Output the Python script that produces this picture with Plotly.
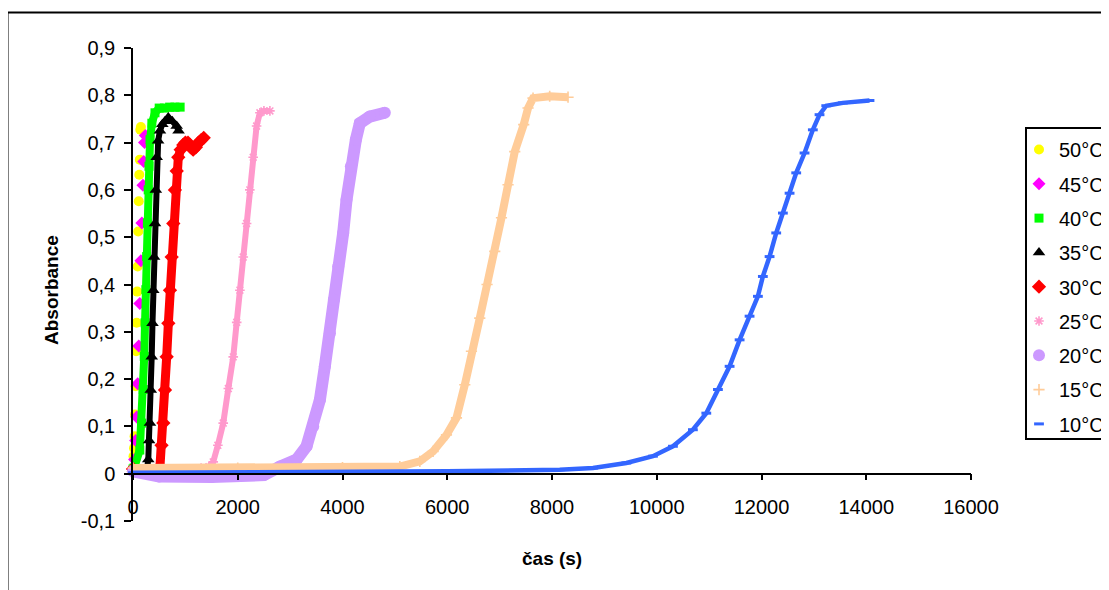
import plotly.graph_objects as go

# ---------------- data ----------------
SERIES_NAMES = ["50°C", "45°C", "40°C", "35°C", "30°C", "25°C", "20°C", "15°C", "10°C"]

t50 = [0, 10, 20, 30, 40, 50, 60, 70, 80, 90, 100, 110, 120, 130, 140, 150]
a50 = [0.01, 0.037, 0.054, 0.079, 0.125, 0.185, 0.259, 0.319, 0.385, 0.438, 0.512, 0.576, 0.632, 0.664, 0.727, 0.733]

t45 = [0, 30, 50, 70, 90, 110, 130, 150, 170, 190, 205, 220, 235]
a45 = [0.01, 0.03, 0.07, 0.12, 0.19, 0.27, 0.36, 0.45, 0.53, 0.61, 0.66, 0.70, 0.715]

t40 = [0, 20, 130, 165, 195, 215, 230, 245, 260, 275, 290, 305, 325, 360, 420, 500, 600, 700, 800, 900]
a40 = [0.01, 0.012, 0.05, 0.107, 0.178, 0.248, 0.319, 0.389, 0.459, 0.53, 0.60, 0.65, 0.706, 0.741, 0.763, 0.773, 0.773, 0.775, 0.775, 0.775]

t35 = [0, 270, 292, 308, 324, 340, 357, 372, 387, 403, 420, 436, 452, 480, 515, 560, 611, 674, 750, 834, 870]
a35 = [0.01, 0.012, 0.03, 0.07, 0.107, 0.177, 0.247, 0.318, 0.388, 0.458, 0.529, 0.60, 0.669, 0.704, 0.725, 0.739, 0.745, 0.753, 0.745, 0.735, 0.725]

t30 = [0, 480, 515, 545, 579, 611, 643, 675, 706, 738, 769, 800, 835, 865, 910, 960, 1000, 1050, 1100, 1150, 1200, 1250, 1300, 1350]
a30 = [0.01, 0.01, 0.015, 0.06, 0.107, 0.177, 0.247, 0.318, 0.388, 0.458, 0.529, 0.60, 0.64, 0.669, 0.685, 0.695, 0.70, 0.70, 0.69, 0.685, 0.69, 0.70, 0.705, 0.71]

t25 = [0, 800, 1300, 1450, 1532, 1620, 1723, 1820, 1914, 1980, 2041, 2105, 2169, 2230, 2295, 2360, 2423, 2500, 2614]
a25 = [0.01, 0.01, 0.012, 0.015, 0.025, 0.06, 0.107, 0.18, 0.247, 0.32, 0.388, 0.458, 0.529, 0.60, 0.669, 0.735, 0.763, 0.767, 0.767]

t20 = [0, 500, 1500, 2500, 2805, 3123, 3314, 3441, 3568, 3663, 3759, 3835, 3918, 4013, 4077, 4160, 4255, 4331, 4522, 4808]
a20 = [0.005, -0.006, -0.007, -0.003, 0.015, 0.03, 0.058, 0.10, 0.156, 0.227, 0.297, 0.368, 0.438, 0.509, 0.579, 0.65, 0.706, 0.741, 0.755, 0.763]

t15 = [0, 2000, 4000, 5094, 5476, 5730, 5985, 6176, 6335, 6462, 6621, 6760, 6907, 7035, 7161, 7289, 7460, 7543, 7638, 7956, 8306]
a15 = [0.012, 0.012, 0.013, 0.015, 0.026, 0.047, 0.082, 0.118, 0.188, 0.259, 0.329, 0.40, 0.47, 0.541, 0.611, 0.681, 0.738, 0.773, 0.794, 0.798, 0.796]

t10 = [0, 2000, 4000, 6000, 8147, 8783, 9420, 9927, 10309, 10690, 10946, 11168, 11391, 11582, 11772, 11931, 12026, 12154, 12281, 12408, 12536, 12663, 12822, 12980, 13108, 13236, 13553, 14062]
a10 = [0.002, 0.003, 0.003, 0.005, 0.0085, 0.012, 0.0226, 0.037, 0.058, 0.093, 0.128, 0.178, 0.227, 0.283, 0.333, 0.375, 0.417, 0.459, 0.509, 0.551, 0.593, 0.636, 0.678, 0.727, 0.759, 0.778, 0.784, 0.789]

X_TICKS = [0, 2000, 4000, 6000, 8000, 10000, 12000, 14000, 16000]
X_TICK_LABELS = ["0", "2000", "4000", "6000", "8000", "10000", "12000", "14000", "16000"]
Y_TICKS = [-0.1, 0, 0.1, 0.2, 0.3, 0.4, 0.5, 0.6, 0.7, 0.8, 0.9]
Y_TICK_LABELS = ["-0,1", "0", "0,1", "0,2", "0,3", "0,4", "0,5", "0,6", "0,7", "0,8", "0,9"]

X_TITLE = "čas (s)"
Y_TITLE = "Absorbance"

# ---------------- styles ----------------
TIMES = [t50, t45, t40, t35, t30, t25, t20, t15, t10]
VALUES = [a50, a45, a40, a35, a30, a25, a20, a15, a10]
COLORS = ["#FFFF00", "#FF00FF", "#00FF00", "#000000", "#FF0000", "#FF99CC", "#CC99FF", "#FFCC99", "#3366FF"]
SYMBOLS = ["circle", "diamond", "square", "triangle-up", "diamond", "asterisk", "circle", "cross-thin", "line-ew"]
SIZES = [10, 10, 9, 11, 11, 8, 12, 8, 7]
BAND = [0, 0, 8, 6, 9, 6, 12, 8, 4.5]   # width of the dense-marker band (0 = none)

FONT = "Liberation Sans, Arial, sans-serif"

# page body has an 8px margin -> lay out in reference pixels minus 8
OFF = 8
L, T = 133 - OFF, 48 - OFF
PW, PH = 838, 473
W, H = 1150, 590
R, B = W - L - PW, H - T - PH


def px(xr):  # reference pixel x -> paper fraction
    return (xr - OFF - L) / PW


def py(yr):  # reference pixel y -> paper fraction
    return (T + PH - (yr - OFF)) / PH


fig = go.Figure()
for name, t, a, c, s, sz, bw in zip(SERIES_NAMES, TIMES, VALUES, COLORS, SYMBOLS, SIZES, BAND):
    if bw:
        fig.add_trace(go.Scatter(x=t, y=a, mode="lines", line=dict(color=c, width=bw),
                                 showlegend=False, legendgroup=name, hoverinfo="skip"))
    line_sym = s in ("asterisk", "cross-thin", "line-ew")
    marker = dict(symbol=s, size=sz, color=c,
                  line=dict(color=c, width=3 if s == "line-ew" else (1.6 if line_sym else 0)))
    fig.add_trace(go.Scatter(x=t, y=a, mode="markers", name=name, marker=marker,
                             legendgroup=name, cliponaxis=False))

fig.update_layout(
    width=W, height=H,
    margin=dict(l=L, r=R, t=T, b=B, autoexpand=False),
    paper_bgcolor="white", plot_bgcolor="white",
    font=dict(family=FONT, size=20, color="black"),
    showlegend=True,
    legend=dict(x=px(1019), y=py(130), xanchor="left", yanchor="top",
                borderwidth=0, bgcolor="rgba(0,0,0,0)",
                font=dict(family=FONT, size=20, color="black"),
                tracegroupgap=5.3),
    xaxis=dict(range=[0, 16000], anchor="free", position=0.1,
               tickvals=X_TICKS, ticktext=X_TICK_LABELS,
               showline=True, linecolor="black", linewidth=1.5,
               ticks="outside", ticklen=6, tickwidth=1.5, tickcolor="black",
               ticklabelstandoff=10,
               showgrid=False, zeroline=False),
    yaxis=dict(range=[-0.1, 0.9], domain=[0, 1],
               tickvals=Y_TICKS, ticktext=Y_TICK_LABELS,
               showline=True, linecolor="black", linewidth=1.5,
               ticks="outside", ticklen=7, tickwidth=1.5, tickcolor="black",
               ticklabelstandoff=5,
               showgrid=False, zeroline=False),
    annotations=[
        dict(text="<b>%s</b>" % X_TITLE, xref="paper", yref="paper", x=px(552), y=py(558),
             xanchor="center", yanchor="middle", showarrow=False, font=dict(family=FONT, size=19)),
        dict(text="<b>%s</b>" % Y_TITLE, xref="paper", yref="paper", x=px(51), y=py(290),
             xanchor="center", yanchor="middle", textangle=-90, showarrow=False,
             font=dict(family=FONT, size=19)),
    ],
    shapes=[
        dict(type="rect", xref="paper", yref="paper", x0=px(7.5), x1=px(1200),
             y0=py(700), y1=py(12.5), line=dict(color="black", width=2),
             fillcolor="rgba(0,0,0,0)", layer="below"),
        dict(type="rect", xref="paper", yref="paper", x0=px(1026), x1=px(1200),
             y0=py(439), y1=py(128), line=dict(color="black", width=2),
             fillcolor="white", layer="below"),
    ],
)

fig.write_html("out.html")
